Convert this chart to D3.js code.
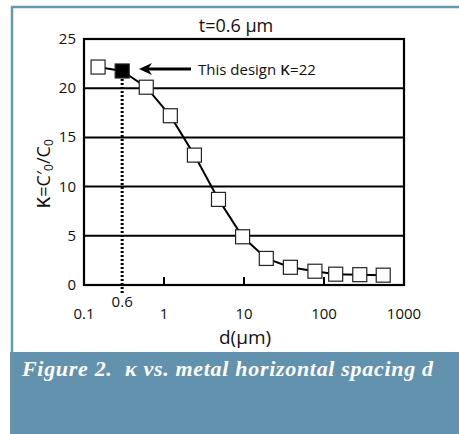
<!DOCTYPE html>
<html>
<head>
<meta charset="utf-8">
<script src="https://cdn.jsdelivr.net/npm/d3@7"></script>
<style>
  body { margin: 0; background: #fff; }
  text { font-family: "Open Sans", "DejaVu Sans", sans-serif; fill: #111; }
</style>
</head>
<body>
<script>
// spacing d (um) and kappa values
var dValues = [0.15, 0.3, 0.6, 1.2, 2.4, 4.8, 9.6, 19, 38, 77, 140, 280, 550];
var kValues = [22.15, 21.75, 20.1, 17.2, 13.2, 8.7, 4.9, 2.7, 1.8, 1.4, 1.1, 1.05, 1.0];
var designIndex = 1;
var xTicks = [0.1, 1, 10, 100, 1000];
var xTickLabels = ["0.1", "1", "10", "100", "1000"];
var yTicks = [0, 5, 10, 15, 20, 25];

var width = 459, height = 434;
var pLeft = 84, pRight = 404, pTop = 39, pBottom = 285;

var svg = d3.select("body").append("svg").attr("width", width).attr("height", height);

// frame
svg.append("rect").attr("x", 10).attr("y", 352).attr("width", width - 10).attr("height", height - 352)
  .attr("fill", "#6392ae");
svg.append("path").attr("d", "M 12 352 L 12 7 L " + width + " 7")
  .attr("fill", "none").attr("stroke", "#6a98b4").attr("stroke-width", 2.5);

var x = d3.scaleLog().domain([0.1, 1000]).range([pLeft, pRight]);
var y = d3.scaleLinear().domain([0, 25]).range([pBottom, pTop]);

// grid lines
svg.append("g").selectAll("line").data(yTicks.slice(1, 5)).enter().append("line")
  .attr("x1", pLeft).attr("x2", pRight)
  .attr("y1", function(d) { return y(d); }).attr("y2", function(d) { return y(d); })
  .attr("stroke", "#000").attr("stroke-width", 2);

// x ticks (inside)
svg.append("g").selectAll("line").data(xTicks.slice(1, 4)).enter().append("line")
  .attr("x1", function(d) { return x(d); }).attr("x2", function(d) { return x(d); })
  .attr("y1", pBottom).attr("y2", pBottom - 8)
  .attr("stroke", "#000").attr("stroke-width", 2);

// plot border
svg.append("rect").attr("x", pLeft).attr("y", pTop).attr("width", pRight - pLeft).attr("height", pBottom - pTop)
  .attr("fill", "none").attr("stroke", "#000").attr("stroke-width", 2.2);

// y tick labels
svg.append("g").selectAll("text").data(yTicks).enter().append("text")
  .attr("x", pLeft - 8).attr("y", function(d) { return y(d) + 5; })
  .attr("text-anchor", "end").style("font-size", "15px")
  .text(function(d) { return d; });

// x tick labels
svg.append("g").selectAll("text").data(xTicks).enter().append("text")
  .attr("x", function(d) { return x(d); }).attr("y", 319)
  .attr("text-anchor", "middle").style("font-size", "15px")
  .text(function(d, i) { return xTickLabels[i]; });

// dotted design line
var dx = x(dValues[designIndex]);
svg.append("line").attr("x1", dx).attr("x2", dx).attr("y1", y(kValues[designIndex])).attr("y2", 294)
  .attr("stroke", "#000").attr("stroke-width", 3).attr("stroke-dasharray", "2,2");
svg.append("text").attr("x", dx).attr("y", 307).attr("text-anchor", "middle")
  .style("font-size", "15px").text("0.6");

// data line
var pts = dValues.map(function(d, i) { return [d, kValues[i]]; });
svg.append("path").datum(pts)
  .attr("d", d3.line().x(function(d) { return x(d[0]); }).y(function(d) { return y(d[1]); }))
  .attr("fill", "none").attr("stroke", "#000").attr("stroke-width", 2);

// markers
var s = 14;
svg.append("g").selectAll("rect").data(pts).enter().append("rect")
  .attr("x", function(d) { return x(d[0]) - s / 2; })
  .attr("y", function(d) { return y(d[1]) - s / 2; })
  .attr("width", s).attr("height", s)
  .attr("fill", function(d, i) { return i == designIndex ? "#000" : "#fff"; })
  .attr("stroke", "#222").attr("stroke-width", 1.2);

// arrow + annotation
var ay = 69;
svg.append("line").attr("x1", 191).attr("x2", 147).attr("y1", ay).attr("y2", ay)
  .attr("stroke", "#000").attr("stroke-width", 3);
svg.append("path").attr("d", "M 139 " + ay + " L 152 " + (ay - 6) + " L 148 " + ay + " L 152 " + (ay + 6) + " Z")
  .attr("fill", "#000");
var ann = svg.append("text").attr("x", 198).attr("y", 75).style("font-size", "15px");
ann.append("tspan").text("This design ");
ann.append("tspan").style("font-size", "19px").text("κ");
ann.append("tspan").text("=22");

// title
svg.append("text").attr("x", 236).attr("y", 32).attr("text-anchor", "middle")
  .style("font-size", "18px").text("t=0.6 μm");

// axis titles
svg.append("text").attr("x", 245).attr("y", 344).attr("text-anchor", "middle")
  .style("font-size", "19px").text("d(μm)");

var yl = svg.append("text").attr("transform", "translate(50,174) rotate(-90)")
  .attr("text-anchor", "middle").style("font-size", "18px");
yl.append("tspan").style("font-size", "23px").text("κ");
yl.append("tspan").text("=C′");
yl.append("tspan").attr("baseline-shift", "-25%").style("font-size", "12px").text("0");
yl.append("tspan").text("/C");
yl.append("tspan").attr("baseline-shift", "-25%").style("font-size", "12px").text("0");

// caption
svg.append("text").attr("x", 22).attr("y", 376)
  .style("font-family", "'Liberation Serif', 'DejaVu Serif', serif")
  .style("font-style", "italic").style("font-weight", "bold").style("font-size", "22px")
  .style("white-space", "pre").style("fill", "#fff")
  .attr("textLength", 411).attr("lengthAdjust", "spacing")
  .text("Figure 2.  κ vs. metal horizontal spacing d");
</script>
</body>
</html>
